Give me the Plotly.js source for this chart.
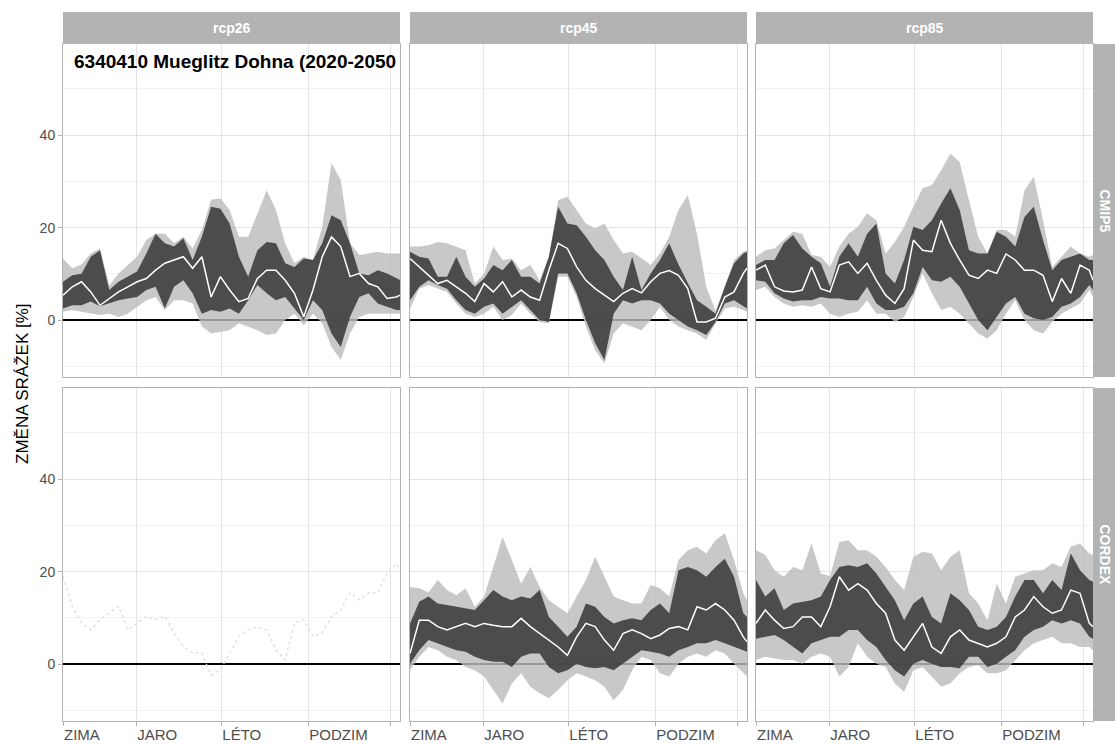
<!DOCTYPE html>
<html><head><meta charset="utf-8">
<script src="https://cdn.plot.ly/plotly-3.0.1.min.js"></script>
<style>html,body{margin:0;padding:0;background:#fff}#chart{width:1115px;height:744px}</style>
</head><body><div id="chart"></div>
<script>
// day of year sample points
const days = [1,11,21,31,41,51,61,71,81,91,101,111,121,131,141,151,161,171,181,191,201,211,221,231,241,251,261,271,281,291,301,311,321,331,341,351,361,365];
const seasonTicks = [1,80,172,266,355];
const seasonLabels = ['ZIMA','JARO','LÉTO','PODZIM',''];
const scenarios = ['rcp26','rcp45','rcp85'];
const sources = ['CMIP5','CORDEX'];
const titleText = '6340410 Mueglitz Dohna (2020-2050';
const yTitle = 'ZMĚNA SRÁŽEK [%]';

// rcp26 CMIP5
const rcp26_cmip5_min = [1.8,2.2,1.8,1.4,1.1,1.4,0.7,1.4,2.9,4.3,5.0,2.2,4.3,4.3,3.6,-1.4,-2.9,-2.5,-2.2,-0.7,-1.4,-2.2,-3.2,-2.9,0.0,1.4,-1.1,1.4,-0.7,-5.8,-8.6,-2.9,0.7,1.4,1.4,1.4,1.4,1.4];
const rcp26_cmip5_lo  = [2.5,3.2,3.2,4.0,3.0,3.6,4.3,4.7,5.0,6.5,7.2,2.5,7.2,8.6,5.8,1.4,2.2,1.8,2.5,1.4,4.3,7.6,5.8,4.3,5.0,2.5,0.0,4.3,2.2,-2.9,-5.8,0.7,5.0,5.8,3.6,2.9,2.2,2.2];
const rcp26_cmip5_med = [5.4,7.2,8.3,6.1,3.2,4.7,6.1,7.2,8.3,9.0,10.8,12.3,13.0,13.7,11.2,13.7,5.0,9.4,6.5,4.0,4.7,9.0,10.8,10.8,8.6,5.8,0.7,6.5,13.7,18.0,15.9,9.4,10.1,7.9,7.2,4.7,5.0,5.4];
const rcp26_cmip5_hi  = [8.3,9.7,10.0,13.7,15.1,6.5,8.3,9.4,10.5,14.4,18.7,16.6,15.9,17.7,13.0,18.0,24.5,24.1,20.9,13.7,9.4,15.1,16.9,16.6,12.3,11.5,13.3,13.0,16.6,22.7,21.6,16.6,10.1,9.7,10.8,10.1,9.0,8.7];
const rcp26_cmip5_max = [13.3,11.2,12.0,14.4,15.5,7.5,10.1,11.9,13.7,17.3,18.7,18.7,16.6,18.0,15.5,19.5,26.0,26.3,23.8,18.0,18.0,23.0,28.1,23.8,16.6,12.3,13.7,13.0,20.2,33.9,30.3,16.6,14.1,14.4,14.8,14.4,14.4,14.4];

// rcp45 CMIP5
const rcp45_cmip5_min = [2.5,6.8,7.6,6.8,6.1,3.6,1.4,0.7,1.4,2.9,0.0,1.1,3.6,1.4,-0.4,-0.7,9.4,9.4,5.0,-1.4,-6.5,-9.4,-2.9,-0.7,-1.4,-2.2,0.0,2.9,0.0,-1.4,-2.2,-2.9,-4.3,-0.7,2.5,2.9,2.2,1.8];
const rcp45_cmip5_lo  = [4.3,7.2,8.6,7.6,6.8,4.3,2.2,1.4,2.9,3.6,1.4,2.9,4.3,2.2,0.0,-0.4,10.1,10.1,5.8,0.0,-5.0,-8.6,1.4,4.3,3.6,4.3,4.3,3.6,1.4,0.0,-1.4,-2.2,-3.2,-0.4,3.6,4.3,2.9,2.5];
const rcp45_cmip5_med = [13.3,11.5,9.7,7.9,8.6,7.2,5.8,4.0,7.9,6.1,8.3,5.0,6.5,5.0,4.3,10.8,16.6,15.5,11.5,8.6,6.8,5.4,4.0,5.8,6.8,5.9,8.3,10.1,10.7,9.7,6.8,-0.4,-0.4,0.4,5.0,6.1,10.1,11.2];
const rcp45_cmip5_hi  = [14.8,13.7,13.3,9.4,9.4,13.7,9.4,7.2,9.0,11.9,10.8,13.0,9.4,9.4,7.9,13.7,24.5,20.9,20.5,18.0,15.1,13.0,9.4,6.5,13.7,6.5,10.1,13.0,16.6,12.0,8.0,4.3,2.9,1.4,7.2,12.3,14.4,14.8];
const rcp45_cmip5_max = [15.9,15.9,16.2,16.9,16.6,15.9,15.1,7.9,10.0,15.9,13.0,13.3,10.8,11.9,8.6,13.7,25.9,26.7,23.8,20.9,19.8,20.9,17.3,14.4,14.8,13.3,11.9,14.4,18.0,23.8,27.0,18.7,7.2,2.0,7.2,13.0,14.8,15.1];

// rcp85 CMIP5
const rcp85_cmip5_min = [6.5,7.2,5.0,3.6,2.9,3.2,2.9,3.6,1.4,0.7,1.4,1.8,4.3,1.4,1.4,-0.4,0.7,5.0,10.1,5.8,2.2,2.9,1.4,-0.7,-2.9,-4.0,-2.2,1.4,4.3,0.0,-2.2,-2.9,-0.4,1.4,2.5,3.6,6.5,5.0];
const rcp85_cmip5_lo  = [8.6,8.3,5.8,4.7,4.0,4.3,4.3,5.0,4.7,4.7,4.3,4.3,7.2,3.6,2.2,2.2,2.9,5.8,11.5,8.6,8.3,9.4,7.2,3.6,0.0,-2.2,0.7,3.6,5.0,1.4,0.4,0.0,0.7,2.9,3.6,5.0,7.6,6.5];
const rcp85_cmip5_med = [10.8,11.9,7.2,6.3,6.1,6.5,11.5,6.8,6.1,11.9,12.6,10.1,12.3,8.6,5.4,3.6,6.8,17.3,15.1,14.8,21.6,16.6,13.0,9.7,9.0,10.8,10.1,14.3,13.0,10.8,10.8,9.7,4.0,9.0,5.8,11.9,10.8,8.6];
const rcp85_cmip5_hi  = [11.9,13.0,13.0,16.6,18.4,15.5,13.7,12.3,7.2,13.7,16.6,13.7,18.7,20.9,10.1,7.9,13.0,20.2,19.5,21.6,25.2,28.5,23.8,15.1,14.4,14.4,19.1,18.0,15.9,22.3,24.5,17.3,10.8,13.0,13.7,14.4,13.0,13.0];
const rcp85_cmip5_max = [13.7,15.1,15.5,17.3,19.1,18.7,14.1,13.7,11.5,15.9,18.7,20.2,23.1,21.6,14.4,16.9,20.2,24.5,28.5,29.2,32.4,36.0,34.2,25.9,18.0,14.4,19.5,19.5,18.0,28.1,31.0,21.6,11.5,13.7,15.9,14.4,13.7,14.1];

// rcp26 CORDEX (single run, dotted)
const rcp26_cordex_run = [19.0,12.5,8.9,7.4,9.6,11.0,12.5,7.4,8.9,10.3,9.6,10.3,6.7,3.8,2.4,2.4,-2.4,-1.2,2.4,6.0,7.4,8.1,7.4,3.1,0.9,8.9,9.6,6.0,6.7,10.3,11.7,15.4,13.9,15.4,15.4,19.7,21.8,20.4];

// rcp45 CORDEX
const rcp45_cordex_min = [-1.3,1.6,3.7,3.0,1.6,0.9,-0.6,-1.3,-2.7,-5.6,-8.5,-4.2,-2.0,-4.9,-6.3,-7.4,-5.6,-3.5,-2.0,-2.7,-3.5,-4.9,-7.8,-5.6,-1.3,1.6,0.9,-2.0,-2.7,0.1,1.6,2.3,1.6,3.0,2.3,0.1,-2.0,-2.7];
const rcp45_cordex_lo  = [0.1,3.0,5.2,4.5,3.7,3.0,2.7,1.6,0.9,0.5,0.5,-0.6,1.6,2.3,2.3,-0.6,-2.0,-1.3,0.1,-0.6,-0.9,-0.6,-1.3,0.1,1.6,3.0,2.7,2.3,1.6,3.0,3.7,4.5,4.5,5.2,4.5,3.7,3.0,2.7];
const rcp45_cordex_med = [2.3,9.5,9.5,8.1,7.4,8.1,8.8,8.1,8.8,8.4,8.1,8.1,9.9,8.1,6.6,5.2,3.7,1.9,5.9,8.8,8.1,5.2,3.0,6.6,7.4,6.6,5.5,6.3,7.7,8.1,7.4,12.4,11.7,13.1,11.7,9.5,5.9,4.8];
const rcp45_cordex_hi  = [8.8,13.5,14.6,13.1,12.8,12.4,12.0,11.7,13.8,16.0,14.6,13.8,14.6,14.2,16.0,10.2,8.1,5.9,8.1,13.1,12.4,10.2,8.8,9.5,9.9,9.5,11.7,13.1,11.0,20.3,21.0,20.3,18.9,21.0,22.8,18.9,11.0,10.2];
const rcp45_cordex_max = [16.7,16.4,15.5,18.2,16.0,14.9,16.4,12.4,14.6,21.0,27.5,22.5,17.4,21.0,16.7,13.8,12.4,11.0,14.6,18.2,23.2,18.9,14.6,13.8,13.1,13.1,17.1,16.4,14.6,22.5,24.6,25.4,23.9,26.8,28.3,22.5,15.3,13.8];

// rcp85 CORDEX
const rcp85_cordex_min = [0.9,1.6,1.2,0.9,0.9,0.1,1.6,2.3,1.6,-2.7,-0.6,4.5,1.6,0.1,-0.6,-4.2,-6.0,-1.3,-0.6,-2.7,-4.9,-4.2,-2.0,-0.6,-0.2,-2.0,-2.0,-1.3,0.9,3.0,4.5,5.2,5.9,4.5,4.5,3.7,3.7,3.0];
const rcp85_cordex_lo  = [5.5,5.9,6.3,5.2,3.7,2.3,4.5,5.2,5.9,5.9,7.4,7.4,5.2,3.7,0.9,-1.3,-2.7,0.1,0.9,0.1,-0.6,-0.6,-0.9,1.6,1.6,-0.6,0.1,1.6,3.0,5.9,7.4,8.1,9.5,8.8,9.5,8.8,5.9,5.5];
const rcp85_cordex_med = [8.8,11.7,9.5,7.7,8.1,10.2,10.2,8.1,12.4,18.9,16.0,17.4,16.0,13.1,11.0,5.2,3.0,5.9,8.8,3.7,2.3,5.9,7.4,5.2,4.5,3.7,4.5,5.9,10.2,11.7,14.6,12.4,11.0,11.7,16.0,15.3,8.8,8.1];
const rcp85_cordex_hi  = [18.2,14.6,16.4,11.7,13.1,13.5,13.8,14.6,18.2,21.0,21.4,21.0,21.8,19.6,16.7,13.8,9.5,13.1,14.6,10.2,8.8,15.3,13.8,11.7,8.1,7.4,8.1,10.2,14.6,18.2,18.2,15.3,18.2,16.0,23.9,20.3,18.2,17.8];
const rcp85_cordex_max = [24.6,23.6,20.3,18.9,21.0,20.3,26.1,19.6,19.0,26.4,26.8,24.6,24.6,23.2,21.0,18.2,16.0,23.2,24.3,23.9,20.3,23.2,24.6,15.3,13.1,9.5,17.4,13.1,18.9,19.6,20.3,20.3,21.8,21.0,25.4,26.1,23.9,23.6];

const W = 1115, H = 744;
const colPx = [[63,400],[410,747],[756,1093]];
const rowPx = [[44,377],[388,721]];
const yRange = [-12.3, 59.7];
const FONT = 'Liberation Sans, Arial, Helvetica, sans-serif';

const panels = [
  {n:1, band:{min:rcp26_cmip5_min, lo:rcp26_cmip5_lo, med:rcp26_cmip5_med, hi:rcp26_cmip5_hi, max:rcp26_cmip5_max}},
  {n:2, band:{min:rcp45_cmip5_min, lo:rcp45_cmip5_lo, med:rcp45_cmip5_med, hi:rcp45_cmip5_hi, max:rcp45_cmip5_max}},
  {n:3, band:{min:rcp85_cmip5_min, lo:rcp85_cmip5_lo, med:rcp85_cmip5_med, hi:rcp85_cmip5_hi, max:rcp85_cmip5_max}},
  {n:4, run:rcp26_cordex_run},
  {n:5, band:{min:rcp45_cordex_min, lo:rcp45_cordex_lo, med:rcp45_cordex_med, hi:rcp45_cordex_hi, max:rcp45_cordex_max}},
  {n:6, band:{min:rcp85_cordex_min, lo:rcp85_cordex_lo, med:rcp85_cordex_med, hi:rcp85_cordex_hi, max:rcp85_cordex_max}}
];

const traces = [];
const clear = 'rgba(0,0,0,0)';
panels.forEach(p => {
  const xa = p.n === 1 ? 'x' : 'x' + p.n;
  const ya = p.n === 1 ? 'y' : 'y' + p.n;
  const base = {x: days, xaxis: xa, yaxis: ya, mode: 'lines', showlegend: false, hoverinfo: 'skip'};
  if (p.band) {
    const b = p.band;
    traces.push(Object.assign({}, base, {y: b.min, line: {width: 0, color: clear}}));
    traces.push(Object.assign({}, base, {y: b.max, line: {width: 0, color: clear}, fill: 'tonexty', fillcolor: 'rgba(188,188,188,0.82)'}));
    traces.push(Object.assign({}, base, {y: b.lo, line: {width: 0, color: clear}}));
    traces.push(Object.assign({}, base, {y: b.hi, line: {width: 0, color: clear}, fill: 'tonexty', fillcolor: 'rgba(62,62,62,0.9)'}));
    traces.push(Object.assign({}, base, {y: b.med, line: {width: 1.5, color: '#ffffff'}}));
  } else {
    traces.push(Object.assign({}, base, {y: p.run, line: {width: 1.3, color: '#dedede', dash: 'dot'}}));
  }
});

const layout = {
  width: W, height: H, autosize: false,
  margin: {l: 0, r: 0, t: 0, b: 0},
  paper_bgcolor: '#ffffff', plot_bgcolor: '#ffffff',
  font: {family: FONT, color: '#4d4d4d'},
  showlegend: false,
  shapes: [], annotations: []
};

for (let i = 1; i <= 6; i++) {
  const col = (i - 1) % 3, row = Math.floor((i - 1) / 3);
  const xk = i === 1 ? 'xaxis' : 'xaxis' + i;
  const yk = i === 1 ? 'yaxis' : 'yaxis' + i;
  layout[xk] = {
    domain: [colPx[col][0] / W, colPx[col][1] / W],
    anchor: i === 1 ? 'y' : 'y' + i,
    range: [1, 365], fixedrange: true,
    tickmode: 'array', tickvals: seasonTicks, ticktext: seasonLabels,
    showgrid: true, gridcolor: '#e4e4e4', gridwidth: 1, zeroline: false,
    showline: true, mirror: true, linecolor: '#b3b3b3', linewidth: 1,
    ticks: row === 1 ? 'outside' : '', ticklen: 4, tickcolor: '#b3b3b3', tickwidth: 1,
    showticklabels: row === 1, ticklabelposition: 'outside right',
    tickfont: {size: 15, color: '#4d4d4d', family: FONT}
  };
  layout[yk] = {
    domain: [1 - rowPx[row][1] / H, 1 - rowPx[row][0] / H],
    anchor: i === 1 ? 'x' : 'x' + i,
    range: yRange, fixedrange: true,
    tickmode: 'linear', tick0: 0, dtick: 20,
    showgrid: true, gridcolor: '#e4e4e4', gridwidth: 1,
    minor: {tickmode: 'linear', tick0: 0, dtick: 10, showgrid: true, gridcolor: '#f2f2f2', gridwidth: 1, ticks: ''},
    zeroline: true, zerolinecolor: '#000000', zerolinewidth: 1.6,
    showline: true, mirror: true, linecolor: '#b3b3b3', linewidth: 1,
    ticks: col === 0 ? 'outside' : '', ticklen: 4, tickcolor: '#b3b3b3', tickwidth: 1,
    showticklabels: col === 0,
    tickfont: {size: 14, color: '#4d4d4d', family: FONT}
  };
}

// top strips
scenarios.forEach((s, c) => {
  layout.shapes.push({type: 'rect', xref: 'paper', yref: 'paper',
    x0: colPx[c][0] / W, x1: colPx[c][1] / W, y0: 1 - 44 / H, y1: 1 - 12 / H,
    fillcolor: '#b3b3b3', line: {width: 0}, layer: 'above'});
  layout.annotations.push({xref: 'paper', yref: 'paper',
    x: (colPx[c][0] + colPx[c][1]) / 2 / W, y: 1 - 28 / H, xanchor: 'center', yanchor: 'middle',
    text: '<b>' + s + '</b>', showarrow: false, font: {size: 14, color: '#ffffff', family: FONT}});
});
// right strips
sources.forEach((s, r) => {
  layout.shapes.push({type: 'rect', xref: 'paper', yref: 'paper',
    x0: 1093 / W, x1: 1, y0: 1 - rowPx[r][1] / H, y1: 1 - rowPx[r][0] / H,
    fillcolor: '#b3b3b3', line: {width: 0}, layer: 'above'});
  layout.annotations.push({xref: 'paper', yref: 'paper',
    x: 1105 / W, y: 1 - (rowPx[r][0] + rowPx[r][1]) / 2 / H, xanchor: 'center', yanchor: 'middle',
    textangle: 90, text: '<b>' + s + '</b>', showarrow: false, font: {size: 14, color: '#ffffff', family: FONT}});
});
// y title
layout.annotations.push({xref: 'paper', yref: 'paper', x: 22 / W, y: 1 - 384 / H,
  xanchor: 'center', yanchor: 'middle', textangle: -90, text: yTitle, showarrow: false,
  font: {size: 17, color: '#000000', family: FONT}});
// in-panel title
layout.annotations.push({xref: 'paper', yref: 'paper', x: 72 / W, y: 1 - 61 / H,
  xanchor: 'left', yanchor: 'middle', text: '<b>' + titleText + '</b>', showarrow: false,
  font: {size: 19, color: '#000000', family: FONT}});

Plotly.newPlot('chart', traces, layout, {staticPlot: true, displayModeBar: false});
</script>
</body></html>
